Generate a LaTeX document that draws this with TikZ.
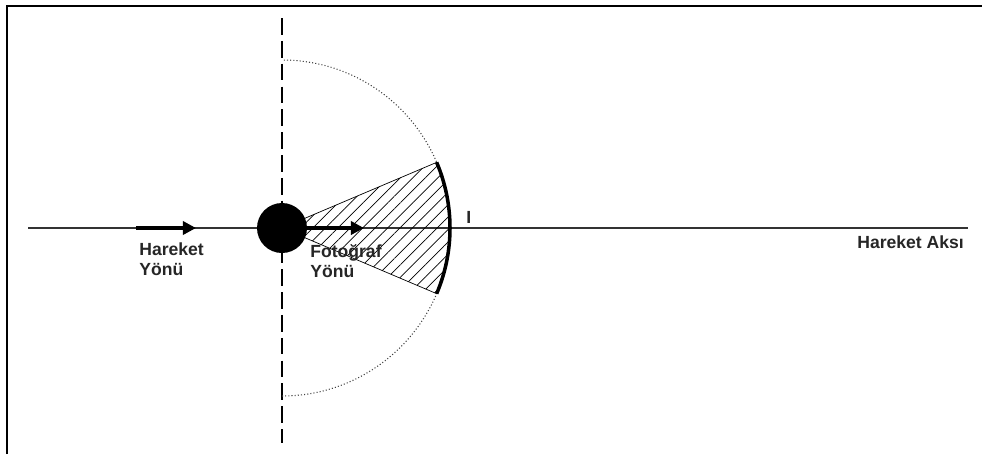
\documentclass[tikz,border=0pt]{standalone}
\usepackage{fontspec}
\setmainfont{Liberation Sans}
\usetikzlibrary{arrows.meta,patterns.meta,calc}

\begin{document}
\begin{tikzpicture}[
x=0.02cm, y=-0.02cm,
lbl/.style={font=\bfseries\fontsize{10}{11.5}\selectfont, align=left, inner sep=0pt, text=black!85},
dirarr/.style={-{Triangle[length=7.5pt,width=7.5pt]}, line width=2.4pt},
axis/.style={line width=0.8pt, black!80}
]
\useasboundingbox (0,0) rectangle (982,454);
% frame
\draw[line width=1.4pt] (7,454) -- (7,6) -- (982,6);

\coordinate (c) at (282,228);
\coordinate (axL) at (28,228);
\coordinate (axR) at (968,228);
\coordinate (vT) at (282,18);
\coordinate (vB) at (282,443);
\coordinate (s1) at ($(c)+(23:168)$);
\coordinate (s2) at ($(c)+(-23:168)$);
\coordinate (top) at ($(c)+(90:168)$);

% axis and vertical line
\draw[axis] (axL) -- (axR);
\draw[line width=0.9pt, dash pattern=on 9.5pt off 3.5pt] (vT) -- (vB);

% field of view
\draw[dash pattern=on 0.6pt off 1.2pt, line width=0.6pt, black!75] (top) arc[start angle=90, end angle=-90, radius=168];
\draw[line width=0.4pt, pattern={Lines[angle=45,distance=5pt,line width=0.4pt]}] (c) -- (s2) arc[start angle=-23, end angle=23, radius=168] -- cycle;
\draw[line width=2pt] (s2) arc[start angle=-23, end angle=23, radius=168];

\node[circle, fill=black, minimum size=1cm, inner sep=0pt] (ball) at (c) {};

% directions
\coordinate (h1) at (136,228);
\coordinate (h2) at (196,228);
\coordinate (f2) at (364,228);
\draw[dirarr] (h1) -- (h2);
\draw[dirarr] (ball.east) -- (f2);

\node[lbl, anchor=north west] (hy) at (139,242) {Hareket\\Yönü};
\node[lbl, anchor=north west] (fy) at (310,244) {Fotoğraf\\Yönü};
\node[lbl, anchor=base west] (ha) at (857,248) {Hareket Aksı};
\node[lbl, anchor=base west] (i) at (466,223) {I};
\end{tikzpicture}
\end{document}
